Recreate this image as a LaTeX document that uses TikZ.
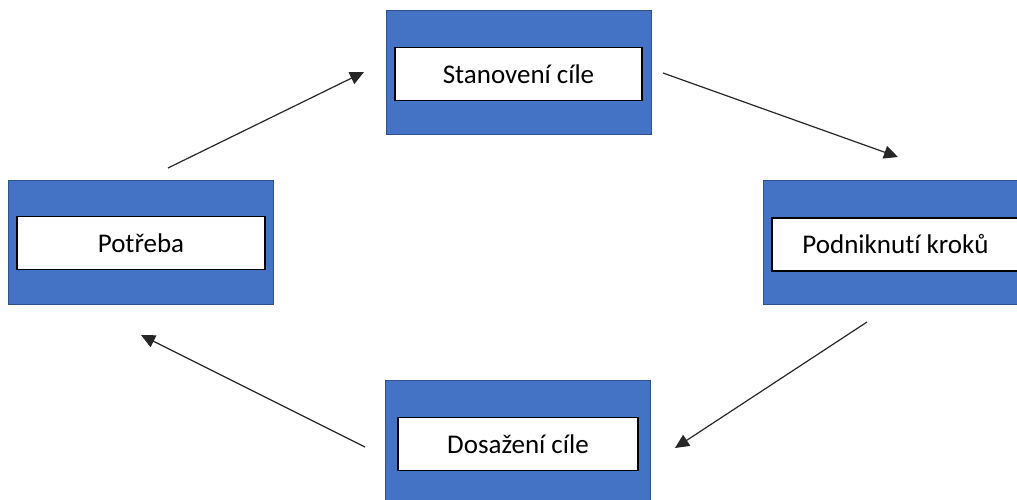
\documentclass[tikz,border=0pt]{standalone}
\usepackage{fontspec}
\setmainfont[Ligatures={NoCommon}]{Carlito}
\usetikzlibrary{arrows.meta}
\definecolor{boxblue}{HTML}{4472C4}
\definecolor{boxedge}{HTML}{2F528F}
\tikzset{
  outerbox/.style={draw=boxedge, line width=1pt, fill=boxblue, minimum width=265pt, minimum height=124pt, inner sep=0pt, anchor=center},
  innerbox/.style={draw=black, line width=1.8pt, fill=white, minimum width=%
    #1, minimum height=53pt, inner sep=0pt, font=\fontsize{27}{31}\selectfont, anchor=center},
  flow/.style={draw=black!85, line width=1.2pt, -{Triangle[length=14pt,width=13pt]}}
}
\begin{document}
\begin{tikzpicture}[x=1pt,y=-1pt]
\useasboundingbox (0,0) rectangle (1017,499);
\clip (0,0) rectangle (1017,499);
% top
\node[outerbox] (topo) at (518.5,72) {};
\node[innerbox=247pt] (topi) at (518.5,74) {Stanovení cíle};
% right
\node[outerbox] (righto) at (895.5,242.5) {};
\node[innerbox=247pt] (righti) at (895.5,244.5) {Podniknutí kroků};
% bottom
\node[outerbox] (boto) at (518,442) {};
\node[innerbox=240pt] (boti) at (518,444) {Dosažení cíle};
% left
\node[outerbox] (lefto) at (140.5,242.5) {};
\node[innerbox=248pt] (lefti) at (141,243) {Potřeba};
% connector end points
\coordinate (a1) at (168,168);
\coordinate (a2) at (364,72);
\coordinate (b1) at (663,73);
\coordinate (b2) at (898,157);
\coordinate (c1) at (867,322);
\coordinate (c2) at (675,448);
\coordinate (d1) at (365,447);
\coordinate (d2) at (141,335);
\draw[flow] (a1) -- (a2);
\draw[flow] (b1) -- (b2);
\draw[flow] (c1) -- (c2);
\draw[flow] (d1) -- (d2);
\end{tikzpicture}
\end{document}
